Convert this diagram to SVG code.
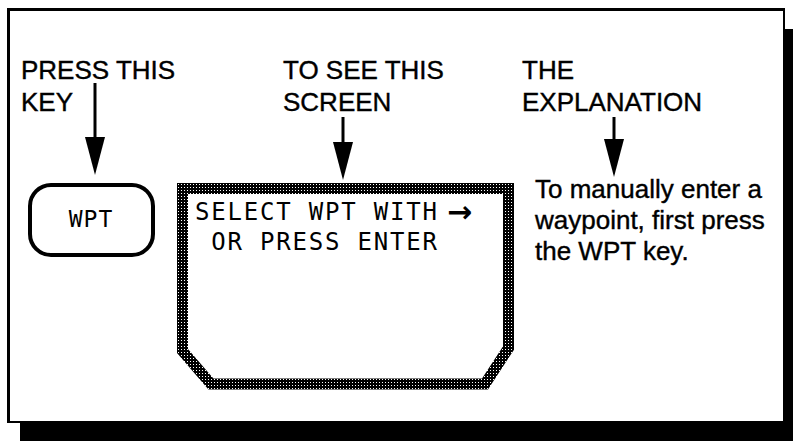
<svg xmlns="http://www.w3.org/2000/svg" width="793" height="441" viewBox="0 0 793 441">
  <style>
    .head { font-family: "Liberation Sans", Arial, sans-serif; font-size: 26px; fill: #000; stroke: #000; stroke-width: 0.4px; }
    .lcd { font-family: "DejaVu Sans Mono", "Liberation Mono", monospace; font-size: 24px; letter-spacing: 1.8px; fill: #000; }
    .conn { stroke: #000; stroke-width: 3; fill: none; }
  </style>
  <defs>
    <pattern id="dither" patternUnits="userSpaceOnUse" width="3" height="3">
      <rect width="3" height="3" fill="#000"/>
      <rect x="1" y="1" width="1" height="1" fill="#fff"/>
    </pattern>
    <marker id="ah" viewBox="0 0 38 20" refX="28" refY="10" markerWidth="38" markerHeight="20" markerUnits="userSpaceOnUse" orient="auto">
      <path d="M0,0 L38,10 L0,20 Z" fill="#000"/>
    </marker>
  </defs>

  <rect width="793" height="441" fill="#fff"/>
  <g id="frame">
    <rect x="20" y="421" width="773" height="20" fill="#000"/>
    <rect x="783" y="29" width="10" height="412" fill="#000"/>
    <rect x="8" y="9" width="776" height="413" fill="#fff" stroke="#000" stroke-width="2"/>
    <line x1="8.5" y1="9" x2="8.5" y2="422" stroke="#000" stroke-width="3"/>
    <line x1="8" y1="9.5" x2="784" y2="9.5" stroke="#000" stroke-width="3"/>
  </g>

  <g id="label-press">
    <text class="head" x="21" y="79">PRESS THIS</text>
    <text class="head" x="21" y="111">KEY</text>
  </g>
  <g id="label-screen">
    <text class="head" x="283" y="79">TO SEE THIS</text>
    <text class="head" x="283" y="111">SCREEN</text>
  </g>
  <g id="label-explanation">
    <text class="head" x="522" y="79">THE</text>
    <text class="head" x="522" y="111">EXPLANATION</text>
  </g>

  <g id="connectors">
    <line class="conn" x1="95" y1="83" x2="95" y2="165" marker-end="url(#ah)"/>
    <line class="conn" x1="343" y1="117" x2="343" y2="170" marker-end="url(#ah)"/>
    <line class="conn" x1="614" y1="117" x2="614" y2="167" marker-end="url(#ah)"/>
  </g>

  <g id="key-wpt">
    <rect x="30" y="185" width="123" height="70" rx="21" ry="21" fill="#fff" stroke="#000" stroke-width="4"/>
    <text class="lcd" x="91" y="227" text-anchor="middle" style="font-size:23px;letter-spacing:1px">WPT</text>
  </g>

  <g id="screen">
    <path d="M182.5,188.5 L508.5,188.5 L508.5,348 L485,384 L211,384 L182.5,351 Z" fill="#fff" stroke="url(#dither)" stroke-width="11" stroke-linejoin="miter"/>
    <text class="lcd" x="195" y="220">SELECT WPT WITH</text>
    <text x="447" y="222" style="font-family:'DejaVu Sans',sans-serif;font-size:30px;font-weight:bold">→</text>
    <text class="lcd" x="195" y="250" xml:space="preserve"> OR PRESS ENTER</text>
  </g>

  <g id="explanation">
    <text class="head" x="535" y="198">To manually enter a</text>
    <text class="head" x="535" y="229">waypoint, first press</text>
    <text class="head" x="535" y="260">the WPT key.</text>
  </g>
</svg>
